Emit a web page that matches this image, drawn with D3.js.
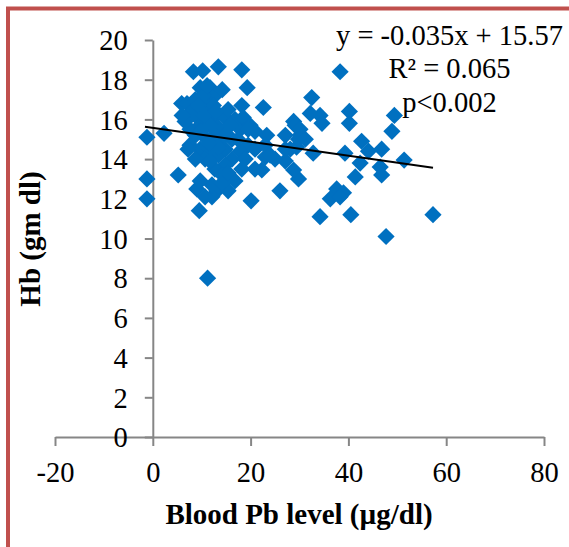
<!DOCTYPE html>
<html>
<head>
<meta charset="utf-8">
<script src="https://cdn.jsdelivr.net/npm/d3@7/dist/d3.min.js"></script>
<style>
  html, body { margin: 0; padding: 0; background: #fff; }
  svg { display: block; }
  text { font-family: "Liberation Serif", "Times New Roman", serif; fill: #000; }
</style>
</head>
<body>
<svg id="chart" width="569" height="547"></svg>
<script>
// Blood Pb level (µg/dl)
const pbLevel = [
  -1.2, -1.2, -1.2, 2.3, 5.2, 9.5, 11.2, 9.0, 13.1, 12.1, 20.1, 18.2,
  8.3, 10.2, 13.4, 18.2, 19.3, 9.7, 11.7, 5.9, 22.6, 18.2,
  32.5, 32.2, 34.2, 34.6, 40.2, 40.2, 49.4, 48.9, 42.7, 39.3, 44.1, 46.8,
  51.4, 42.4, 46.5, 46.8, 41.4, 29.8, 26.0, 37.6, 36.3, 39.0, 38.3, 34.2,
  40.5, 57.3, 47.7, 30.1, 28.8, 32.8, 29.4, 27.1, 23.3, 23.0, 22.3, 28.8,
  38.3,
  7.0, 8.0, 9.1, 9.7, 10.7, 11.7, 12.7, 12.1, 13.4, 14.8, 13.8, 11.1, 8.7,
  7.6, 6.6, 9.7, 11.7, 13.4, 14.8, 16.2, 17.9, 16.8, 15.4, 18.5, 19.9,
  20.9, 19.5, 17.9, 16.2, 14.8, 12.7, 14.2, 18.9, 20.9, 23.0,
  27.1, 28.1, 25.0, 20.9, 16.8, 15.4, 12.1, 10.7, 8.7,
  7.6, 8.7, 10.3, 11.1, 14.2, 12.4, 9.3, 10.1, 12.7, 14.8, 11.7, 6.0,
  7.2, 15.8, 17.4, 11.7, 13.4, 29.1, 30.1, 29.8, 31.2,
  27.1, 24.0, 19.5, 9.7, 14.2, 15.4, 10.7, 10.5, 12.9, 9.9, 11.5
];
// Hb (gm dl)
const hbLevel = [
  15.1, 13.0, 12.0, 15.3, 13.2, 11.4, 8.0, 12.5, 12.4, 12.1, 11.9, 13.5,
  18.4, 18.45, 18.65, 18.5, 17.6, 17.6, 17.6, 16.8, 16.6, 16.7,
  17.1, 16.3, 16.2, 15.8, 16.4, 15.8, 16.2, 15.4, 14.9, 14.3, 14.4, 14.5,
  13.95, 13.8, 13.6, 13.2, 13.1, 13.0, 12.4, 12.5, 12.0, 12.3, 12.1, 11.1,
  11.2, 11.2, 10.1, 15.2, 15.9, 14.3, 14.6, 13.9, 15.2, 14.1, 13.45, 13.45,
  18.4,
  16.8, 16.4, 16.1, 15.7, 16.5, 17.0, 17.2, 16.0, 15.6, 16.1, 15.0, 15.0, 15.2,
  15.5, 15.9, 14.5, 14.5, 14.2, 14.5, 15.0, 15.5, 16.0, 16.5, 16.1, 15.7,
  15.4, 14.7, 14.4, 14.0, 13.7, 13.5, 13.2, 14.0, 14.5, 14.7,
  15.2, 14.5, 14.0, 13.5, 12.9, 12.4, 12.7, 14.0, 14.0,
  14.7, 17.0, 17.2, 17.7, 17.5, 16.7, 16.7, 15.5, 15.2, 15.2, 15.7, 16.2,
  14.5, 15.7, 15.0, 13.9, 14.6, 15.7, 15.5, 15.0, 15.0,
  14.5, 14.2, 15.5, 12.9, 12.8, 13.3, 12.1, 16.2, 16.4, 15.4, 14.8
];
const xTicks = [-20, 0, 20, 40, 60, 80];
const yTicks = [0, 2, 4, 6, 8, 10, 12, 14, 16, 18, 20];
const trendSlope = -0.035;
const trendIntercept = 15.57;
const annotations = ["y = -0.035x + 15.57", "R\u00b2 = 0.065", "p<0.002"];
const xTitle = "Blood Pb level (\u00b5g/dl)";
const yTitle = "Hb (gm dl)";

const svg = d3.select("#chart");
const serif = '"Liberation Serif", "Times New Roman", serif';

// frame
svg.append("rect")
  .attr("x", 8).attr("y", 8.5).attr("width", 700).attr("height", 700)
  .attr("fill", "none").attr("stroke", "#C0504D").attr("stroke-width", 4);

const x = d3.scaleLinear().domain([-20, 80]).range([55, 544]);
const y = d3.scaleLinear().domain([0, 20]).range([437, 40]);

const axisColor = "#868686";

// x axis at y=0
const xAxis = svg.append("g").attr("transform", `translate(0,${y(0)})`)
  .call(d3.axisBottom(x).tickValues(xTicks).tickSize(9).tickSizeOuter(0)
    .tickFormat(d => String(d)));
xAxis.select(".domain").attr("stroke", axisColor).attr("stroke-width", 2);
xAxis.selectAll(".tick line").attr("stroke", axisColor).attr("stroke-width", 2);
xAxis.selectAll(".tick text")
  .style("font-family", serif).style("font-size", "28.5px").attr("fill", "#000")
  .attr("dy", null).attr("y", 45);

// y axis at x=0
const yAxis = svg.append("g").attr("transform", `translate(${x(0)},0)`)
  .call(d3.axisLeft(y).tickValues(yTicks).tickSize(8).tickSizeOuter(0).tickPadding(17)
    .tickFormat(d => String(d)));
yAxis.select(".domain").attr("stroke", axisColor).attr("stroke-width", 2);
yAxis.selectAll(".tick line").attr("stroke", axisColor).attr("stroke-width", 2);
yAxis.selectAll(".tick text")
  .style("font-family", serif).style("font-size", "28.5px").attr("fill", "#000")
  .attr("dy", "0.34em");

// points
const pts = pbLevel.map((v, i) => [v, hbLevel[i]]);
const r = 8.6;
svg.append("g").selectAll("path").data(pts).join("path")
  .attr("d", d => {
    const cx = x(d[0]), cy = y(d[1]);
    return `M${cx},${cy - r}L${cx + r},${cy}L${cx},${cy + r}L${cx - r},${cy}Z`;
  })
  .attr("fill", "#0070C0");

// trend line
const xmin = d3.min(pbLevel) - 0.4, xmax = d3.max(pbLevel);
svg.append("line")
  .attr("x1", x(xmin)).attr("y1", y(trendIntercept + trendSlope * xmin))
  .attr("x2", x(xmax)).attr("y2", y(trendIntercept + trendSlope * xmax))
  .attr("stroke", "#000").attr("stroke-width", 2);

// annotations
svg.append("g").selectAll("text").data(annotations).join("text")
  .attr("x", 449.5).attr("y", (d, i) => 45 + i * 33.3)
  .attr("text-anchor", "middle").style("font-size", "28.5px").style("font-family", serif)
  .text(d => d);

// axis titles
svg.append("text")
  .attr("x", 299).attr("y", 523.5).attr("text-anchor", "middle")
  .style("font-family", serif).style("font-size", "29px").attr("font-weight", "bold").text(xTitle);
svg.append("text")
  .attr("transform", `translate(40,239) rotate(-90)`).attr("text-anchor", "middle")
  .style("font-family", serif).style("font-size", "29px").attr("font-weight", "bold").text(yTitle);
</script>
</body>
</html>
